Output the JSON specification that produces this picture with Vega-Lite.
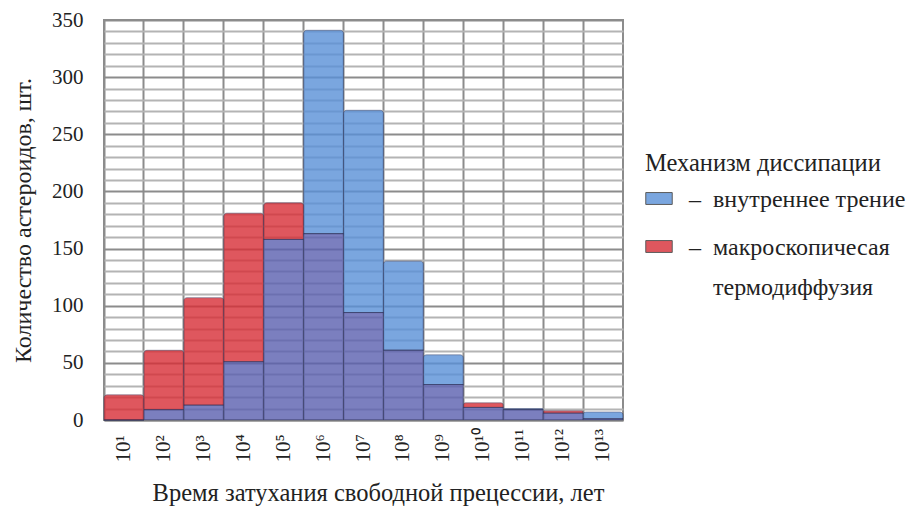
{
  "$schema": "https://vega.github.io/schema/vega-lite/v6.json",
  "width": 519,
  "height": 400,
  "autosize": {"type": "none"},
  "padding": {"left": 104, "top": 20, "right": 292, "bottom": 87},
  "background": "white",
  "config": {
    "font": "Liberation Serif",
    "view": {"stroke": "#8c8c8c", "strokeWidth": 2},
    "axis": {"labelFont": "Liberation Serif", "titleFont": "Liberation Serif", "labelColor": "#222", "titleColor": "#222", "titleFontWeight": "normal"}
  },
  "data": {
    "values": [
      {"t": "10¹", "mech": "внутреннее трение", "count": 0},
      {"t": "10²", "mech": "внутреннее трение", "count": 9},
      {"t": "10³", "mech": "внутреннее трение", "count": 13},
      {"t": "10⁴", "mech": "внутреннее трение", "count": 51},
      {"t": "10⁵", "mech": "внутреннее трение", "count": 158},
      {"t": "10⁶", "mech": "внутреннее трение", "count": 341},
      {"t": "10⁷", "mech": "внутреннее трение", "count": 271},
      {"t": "10⁸", "mech": "внутреннее трение", "count": 139},
      {"t": "10⁹", "mech": "внутреннее трение", "count": 57},
      {"t": "10¹⁰", "mech": "внутреннее трение", "count": 11},
      {"t": "10¹¹", "mech": "внутреннее трение", "count": 10},
      {"t": "10¹²", "mech": "внутреннее трение", "count": 6},
      {"t": "10¹³", "mech": "внутреннее трение", "count": 7},
      {"t": "10¹", "mech": "макроскопичесая термодиффузия", "count": 22},
      {"t": "10²", "mech": "макроскопичесая термодиффузия", "count": 61},
      {"t": "10³", "mech": "макроскопичесая термодиффузия", "count": 107},
      {"t": "10⁴", "mech": "макроскопичесая термодиффузия", "count": 181},
      {"t": "10⁵", "mech": "макроскопичесая термодиффузия", "count": 190},
      {"t": "10⁶", "mech": "макроскопичесая термодиффузия", "count": 163},
      {"t": "10⁷", "mech": "макроскопичесая термодиффузия", "count": 94},
      {"t": "10⁸", "mech": "макроскопичесая термодиффузия", "count": 61},
      {"t": "10⁹", "mech": "макроскопичесая термодиффузия", "count": 31},
      {"t": "10¹⁰", "mech": "макроскопичесая термодиффузия", "count": 15},
      {"t": "10¹¹", "mech": "макроскопичесая термодиффузия", "count": 9},
      {"t": "10¹²", "mech": "макроскопичесая термодиффузия", "count": 8},
      {"t": "10¹³", "mech": "макроскопичесая термодиффузия", "count": 1}
    ]
  },
  "transform": [
    {"joinaggregate": [{"op": "min", "field": "count", "as": "lo"}], "groupby": ["t"]}
  ],
  "encoding": {
    "x": {
      "field": "t", "type": "nominal", "sort": null,
      "scale": {"paddingInner": 0, "paddingOuter": 0},
      "axis": {
        "title": "Время затухания свободной прецессии, лет",
        "titleFontSize": 24.5, "titlePadding": 19, "titleX": 274, "titleAlign": "center", "titleAnchor": "start",
        "labelAngle": 270, "labelAlign": "left", "labelBaseline": "middle",
        "labelFontSize": 21, "labelPadding": 42,
        "ticks": false,
        "grid": true, "bandPosition": 0, "gridColor": "#8c8c8c", "gridWidth": 2,
        "domain": true, "domainColor": "#8c8c8c", "domainWidth": 2
      }
    }
  },
  "layer": [
    {
      "mark": {"type": "bar", "opacity": 0.8, "stroke": "#2c3158", "strokeWidth": 1, "strokeOpacity": 0.55, "cornerRadiusTopLeft": 3, "cornerRadiusTopRight": 3},
      "encoding": {
        "y": {
          "field": "count", "type": "quantitative",
          "scale": {"domain": [0, 350], "nice": false},
          "axis": {
            "title": "Количество астероидов, шт.",
            "titleFontSize": 24, "titlePadding": 16,
            "values": [0,10,20,30,40,50,60,70,80,90,100,110,120,130,140,150,160,170,180,190,200,210,220,230,240,250,260,270,280,290,300,310,320,330,340,350],
            "labelExpr": "datum.value % 50 === 0 ? datum.label : ''",
            "labelOverlap": false,
            "labelFontSize": 21, "labelPadding": 21,
            "ticks": false, "domain": false,
            "grid": true,
            "gridColor": {"condition": {"test": "datum.value % 50 === 0", "value": "#8c8c8c"}, "value": "#b4b4b4"},
            "gridWidth": 2
          }
        },
        "y2": {"field": "lo"},
        "color": {
          "field": "mech", "type": "nominal",
          "scale": {"domain": ["внутреннее трение", "макроскопичесая термодиффузия"], "range": ["#5990d8", "#d82e36"]},
          "legend": {
            "orient": "none", "legendX": 541, "legendY": 132,
            "title": "Механизм диссипации", "titleFont": "Liberation Serif", "titleFontWeight": "normal", "titleFontSize": 24.5, "titleColor": "#222", "titlePadding": 8, "titleLimit": 400,
            "labelFont": "Liberation Serif", "labelFontSize": 24, "labelColor": "#222", "labelOffset": 16, "labelLimit": 400,
            "labelBaseline": "alphabetic",
            "labelExpr": "datum.label === 'внутреннее трение' ? '–\u2002внутреннее трение' : ['–\u2002макроскопичесая', '\u200b\u2002\u2002термодиффузия']",
            "symbolType": "M-1,-0.45H1V0.45H-1Z", "symbolSize": 700, "symbolStrokeColor": "#333", "symbolStrokeWidth": 1, "symbolOpacity": 0.8,
            "rowPadding": 21,
            "encode": {"labels": {"update": {"lineHeight": {"value": 40}, "dy": {"value": 8}}}}
          }
        }
      }
    },
    {
      "transform": [{"filter": "datum.mech === 'внутреннее трение'"}],
      "mark": {"type": "bar", "opacity": 0.8, "color": "#5b60b0", "stroke": "#2c3158", "strokeWidth": 1, "strokeOpacity": 0.55},
      "encoding": {
        "y": {
          "field": "lo", "type": "quantitative",
          "axis": {
            "title": "Количество астероидов, шт.",
            "titleFontSize": 24, "titlePadding": 16,
            "values": [0,10,20,30,40,50,60,70,80,90,100,110,120,130,140,150,160,170,180,190,200,210,220,230,240,250,260,270,280,290,300,310,320,330,340,350],
            "labelExpr": "datum.value % 50 === 0 ? datum.label : ''",
            "labelOverlap": false,
            "labelFontSize": 21, "labelPadding": 21,
            "ticks": false, "domain": false,
            "grid": true,
            "gridColor": {"condition": {"test": "datum.value % 50 === 0", "value": "#8c8c8c"}, "value": "#b4b4b4"},
            "gridWidth": 2
          }
        },
        "y2": {"datum": 0}
      }
    }
  ]
}
